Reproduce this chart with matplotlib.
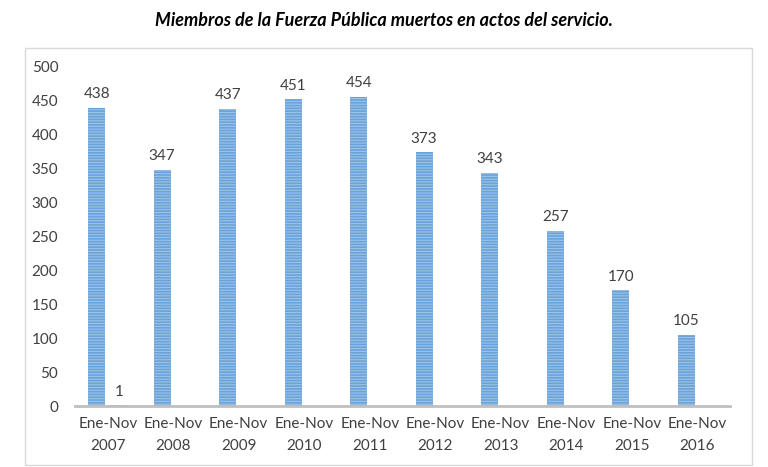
import numpy as np
import matplotlib.pyplot as plt
from matplotlib.patches import Rectangle

plt.rcParams['font.family'] = ['Lato', 'DejaVu Sans']
plt.rcParams['hatch.color'] = '#d6e6f5'
plt.rcParams['hatch.linewidth'] = 0.8

categories = ['Ene-Nov\n2007', 'Ene-Nov\n2008', 'Ene-Nov\n2009', 'Ene-Nov\n2010',
              'Ene-Nov\n2011', 'Ene-Nov\n2012', 'Ene-Nov\n2013', 'Ene-Nov\n2014',
              'Ene-Nov\n2015', 'Ene-Nov\n2016']
muertos = [438, 347, 437, 451, 454, 373, 343, 257, 170, 105]
# second series only has a value for the first period
extra = [1, None, None, None, None, None, None, None, None, None]

fig = plt.figure(figsize=(7.68, 4.67), dpi=100)
fig.patches.append(Rectangle((25/768, 2/467), 727/768, 417/467, transform=fig.transFigure,
                             facecolor='white', edgecolor='#d9d9d9', lw=1, zorder=-10))
ax = fig.add_axes([75/768, 1-406/467, 655/768, 340/467])
ax.patch.set_visible(False)

x = np.arange(len(categories))
w = 0.26
off = 0.17
bars = ax.bar(x - off, muertos, w, color='#6aa3d9', hatch='------', edgecolor='#9cc3e8', lw=0)
for xi, v in zip(x, muertos):
    ax.text(xi - off, v + 10, str(v), ha='center', va='bottom', fontsize=11, color='#404040')
for xi, v in zip(x, extra):
    if v is not None:
        ax.bar(xi + off, v, w, color='#6aa3d9', lw=0)
        ax.text(xi + off, v + 10, str(v), ha='center', va='bottom', fontsize=11, color='#404040')

ax.set_xlim(-0.5, 9.5)
ax.set_ylim(0, 500)
ax.set_yticks(range(0, 501, 50))
ax.set_xticks(x)
ax.set_xticklabels(categories, fontsize=11, color='#404040', linespacing=1.7)
ax.tick_params(axis='y', length=0, pad=12, labelsize=11, labelcolor='#404040')
ax.tick_params(axis='x', length=0, pad=8)
for s in ['top', 'right', 'left']:
    ax.spines[s].set_visible(False)
ax.spines['bottom'].set_color('#bfbfbf')
ax.spines['bottom'].set_linewidth(2)

fig.text(0.5, 1-20/467, 'Miembros de la Fuerza Pública muertos en actos del servicio.',
         ha='center', va='center', fontsize=13, fontstyle='italic', fontweight='bold', color='black')

fig.savefig('out.png', dpi=100)
